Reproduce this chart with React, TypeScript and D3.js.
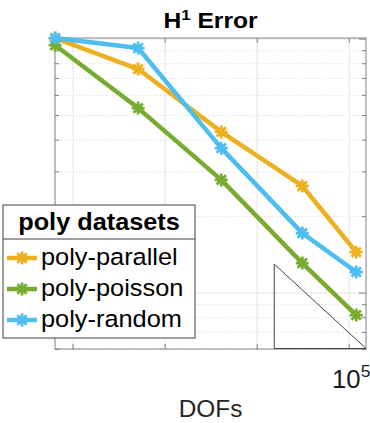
import React from 'react';
import * as d3 from 'd3';

// degrees of freedom per refinement level
const dofs = [8610, 17200, 34400, 67600, 106000];

// H1 error for each dataset
const polyParallel = [0.1009, 0.0762, 0.0431, 0.0264, 0.01449];
const polyPoisson = [0.0946, 0.0535, 0.0279, 0.01312, 0.00819];
const polyRandom = [0.1009, 0.0922, 0.0372, 0.01722, 0.0121];

const seriesNames = ['poly-parallel', 'poly-poisson', 'poly-random'];
const seriesColors = ['#EDB120', '#77AC30', '#4DBEEE'];

const xTicks = [1e4, 21544, 46416, 1e5];
const xTickLabels = ['', '', '', '10^5'];
const yMajorTicks = [0.01, 0.1];
const yMinorTicks = [0.006, 0.007, 0.008, 0.009, 0.02, 0.03, 0.04, 0.05, 0.06, 0.07, 0.08, 0.09];

// slope triangle (corner points in data units)
const triX = [53500, 115000];
const triY = [0.013, 0.013 * 53500 / 115000];

const W = 370;
const H = 423;
const left = 55, right = 366, top = 38, bottom = 349;
const font = '"Liberation Sans", Arial, Helvetica, sans-serif';

function star(cx: number, cy: number, r: number) {
  const d = r * 0.72;
  return `M${cx - r},${cy}L${cx + r},${cy}M${cx},${cy - r}L${cx},${cy + r}` +
    `M${cx - d},${cy - d}L${cx + d},${cy + d}M${cx - d},${cy + d}L${cx + d},${cy - d}`;
}

export default function App() {
  const x = d3.scaleLog().domain([8600, 115000]).range([left, right]);
  const y = d3.scaleLog().domain([0.00602, 0.101]).range([bottom, top]);
  const allSeries = [polyParallel, polyPoisson, polyRandom];
  const line = d3.line<number>().x((_, i) => x(dofs[i])).y((d) => y(d));
  const axisColor = '#808080';

  return (
    <svg width={W} height={H} style={{position: 'absolute', left: 0, top: 0, background: '#fff'}}
      fontFamily={font}>
      <rect x={0} y={0} width={W} height={H} fill="#fff" />
      {/* grid */}
      {yMinorTicks.map((t) => (
        <line key={'gm' + t} x1={left} x2={right} y1={y(t)} y2={y(t)}
          stroke="#d0d0d0" strokeWidth={0.8} strokeDasharray="1,2" />
      ))}
      {yMajorTicks.map((t) => (
        <line key={'gM' + t} x1={left} x2={right} y1={y(t)} y2={y(t)} stroke="#e4e4e4" strokeWidth={1} />
      ))}
      {xTicks.map((t) => (
        <line key={'gx' + t} x1={x(t)} x2={x(t)} y1={top} y2={bottom} stroke="#e4e4e4" strokeWidth={1} />
      ))}
      {/* ticks */}
      {yMinorTicks.concat(yMajorTicks).map((t) => (
        <g key={'yt' + t} stroke={axisColor} strokeWidth={1}>
          <line x1={left} x2={left + (yMajorTicks.includes(t) ? 7 : 4)} y1={y(t)} y2={y(t)} />
          <line x1={right} x2={right - (yMajorTicks.includes(t) ? 7 : 4)} y1={y(t)} y2={y(t)} />
        </g>
      ))}
      {xTicks.map((t) => (
        <g key={'xt' + t} stroke={axisColor} strokeWidth={1}>
          <line x1={x(t)} x2={x(t)} y1={bottom} y2={bottom - 5} />
          <line x1={x(t)} x2={x(t)} y1={top} y2={top + 5} />
        </g>
      ))}
      <rect x={left} y={top} width={right - left} height={bottom - top} fill="none"
        stroke={axisColor} strokeWidth={1} />
      {/* slope triangle */}
      <path d={`M${x(triX[0])},${y(triY[0])}L${x(triX[0])},${y(triY[1])}L${x(triX[1])},${y(triY[1])}Z`}
        fill="none" stroke="#444" strokeWidth={1} />
      {/* series */}
      {allSeries.map((s, k) => (
        <g key={seriesNames[k]}>
          <path d={line(s) || ''} fill="none" stroke={seriesColors[k]} strokeWidth={4.5} strokeLinejoin="round" />
          {s.map((v, i) => (
            <path key={i} d={star(x(dofs[i]), y(v), 6.5)} stroke={seriesColors[k]} strokeWidth={2.8} fill="none" />
          ))}
        </g>
      ))}
      {/* x tick labels */}
      {xTicks.map((t, i) => {
        const lab = xTickLabels[i];
        if (!lab) return null;
        const [base, exp] = lab.split('^');
        return (
          <text key={'xl' + t} transform={`translate(${x(t) + 2},388) scale(1.03,1)`}
            textAnchor="middle" fontSize={25} fill="#1a1a1a">
            {base}<tspan dy={-11} fontSize={17}>{exp}</tspan>
          </text>
        );
      })}
      {/* title */}
      <text transform={`translate(${(left + right) / 2},28) scale(1.12,1)`} textAnchor="middle"
        fontSize={22} fontWeight="bold" fill="#000">
        H<tspan dy={-8} fontSize={15}>1</tspan><tspan dy={8}> Error</tspan>
      </text>
      {/* x label */}
      <text transform={`translate(${(left + right) / 2},417) scale(1.06,1)`} textAnchor="middle"
        fontSize={23} fill="#262626">DOFs</text>
      {/* legend */}
      <g>
        <rect x={3} y={205} width={192} height={133} fill="#fff" stroke="#404040" strokeWidth={1} />
        <line x1={3} x2={195} y1={239} y2={239} stroke="#404040" strokeWidth={1} />
        <text transform={`translate(99,230) scale(1.1,1)`} textAnchor="middle"
          fontSize={23} fontWeight="bold" fill="#000">poly datasets</text>
        {seriesNames.map((n, k) => {
          const ly = 258 + k * 31;
          return (
            <g key={'lg' + n}>
              <line x1={7} x2={37} y1={ly} y2={ly} stroke={seriesColors[k]} strokeWidth={4.5} />
              <path d={star(22, ly, 6.5)} stroke={seriesColors[k]} strokeWidth={2.8} fill="none" />
              <text transform={`translate(41,${ly + 7}) scale(1.08,1)`} fontSize={23.5} fill="#000">{n}</text>
            </g>
          );
        })}
      </g>
    </svg>
  );
}
